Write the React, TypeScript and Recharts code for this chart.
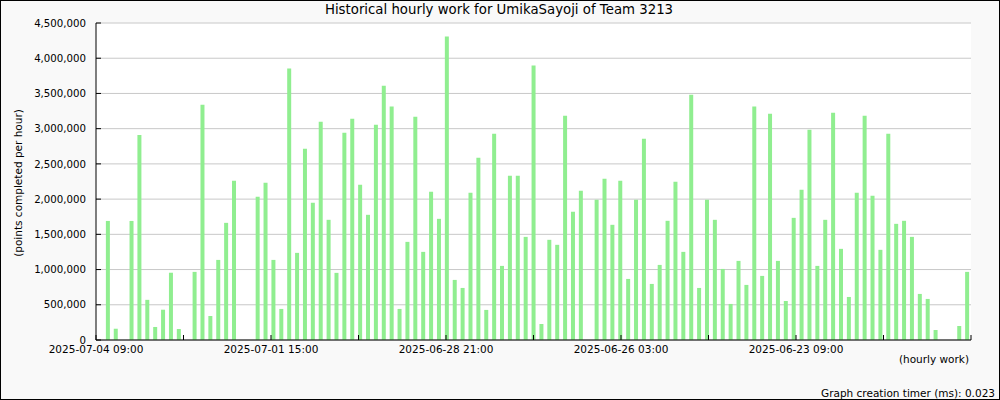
import React from 'react';
import { BarChart, Bar, XAxis, YAxis, CartesianGrid } from 'recharts';

// points per slot, newest first (empty slots are 0)
const work = [
    0, 1690000, 160000, 0, 1690000, 2910000, 570000, 185000, 430000, 955000,
    156000, 0, 967000, 3340000, 341000, 1137000, 1663000, 2260000, 0, 0,
    2033000, 2232000, 1137000, 441000, 3853000, 1237000, 2715000, 1948000, 3099000, 1706000,
    953000, 2943000, 3142000, 2204000, 1777000, 3057000, 3611000, 3313000, 441000, 1393000,
    3170000, 1251000, 2104000, 1720000, 4308000, 853000, 739000, 2090000, 2587000, 427000,
    2929000, 1052000, 2332000, 2332000, 1464000, 3896000, 227000, 1422000, 1351000, 3185000,
    1820000, 2118000, 0, 1990000, 2289000, 1635000, 2261000, 867000, 1990000, 2858000,
    796000, 1066000, 1692000, 2246000, 1251000, 3483000, 739000, 1990000, 1706000, 1009000,
    512000, 1123000, 782000, 3313000, 910000, 3213000, 1123000, 554000, 1734000, 2133000,
    2986000, 1052000, 1706000, 3227000, 1294000, 611000, 2090000, 3185000, 2047000, 1280000,
    2929000, 1649000, 1692000, 1464000, 654000, 583000, 142000, 0, 0, 199000,
    967000,
];

// time ticks every 33 hours across the 330-hour window
const tickHours = [0, 33, 66, 99, 132, 165, 198, 231, 264, 297, 330];
const tickLabels = [
    '2025-07-04 09:00', '', '2025-07-01 15:00', '', '2025-06-28 21:00', '',
    '2025-06-26 03:00', '', '2025-06-23 09:00', '', '',
];
const yTicks = [0, 500000, 1000000, 1500000, 2000000, 2500000, 3000000, 3500000, 4000000, 4500000];

const data = work.map((w, i) => ({ slot: i, work: w }));
const span = work.length;
const slotTicks = tickHours.map((h) => (h / 330) * span - 0.5);

const FONT = '"DejaVu Sans", Verdana, sans-serif';

function TimeTick({ x, y, payload }: any) {
    const label = tickLabels[slotTicks.indexOf(payload.value)] || '';
    return (
        <g>
            <line x1={x} y1={y} x2={x} y2={y - 5} stroke="#000" />
            {label && (
                <text x={x} y={y + 12.5} textAnchor="middle" fontSize={10.5} fontFamily={FONT} fill="#000">{label}</text>
            )}
        </g>
    );
}

function ValueTick({ x, y, payload }: any) {
    return (
        <g>
            <line x1={x} y1={y} x2={x + 5} y2={y} stroke="#000" />
            <text x={x - 10} y={y} dy={3.7} textAnchor="end" fontSize={10.2} fontFamily={FONT} fill="#000">
                {payload.value.toLocaleString('en-US')}
            </text>
        </g>
    );
}

const txt: React.CSSProperties = { position: 'absolute', fontFamily: FONT, color: '#000', lineHeight: '16px', whiteSpace: 'nowrap' };

export default function App() {
    return (
        <div style={{ position: 'relative', width: 1000, height: 400, background: '#f9f9f9', boxShadow: 'inset 0 0 0 1px #000' }}>
            <style>{'body{margin:0}'}</style>
            <div style={{ ...txt, left: 0, width: 998, top: 2, textAlign: 'center', fontSize: 13.3 }}>
                Historical hourly work for UmikaSayoji of Team 3213
            </div>
            <div style={{ ...txt, left: -82, top: 175, width: 200, height: 16, textAlign: 'center', fontSize: 10.5, transform: 'rotate(-90deg)' }}>
                (points completed per hour)
            </div>
            <div style={{ ...txt, right: 31, top: 351, fontSize: 10.5 }}>(hourly work)</div>
            <div style={{ ...txt, right: 5, top: 385, fontSize: 10.5 }}>Graph creation timer (ms): 0.023</div>

            <BarChart width={1000} height={400} data={data} margin={{ top: 23, right: 29, bottom: 0, left: 0 }}
                style={{ position: 'absolute', left: 0, top: 0 }}>
                <CartesianGrid vertical={false} stroke="#c8c8c8" fill="#fff" />
                <XAxis dataKey="slot" type="number" domain={[-0.5, span - 0.5]} ticks={slotTicks} allowDataOverflow interval={0}
                    height={60} axisLine={{ stroke: '#000' }} tickLine={false} tickSize={0} tickMargin={0} tick={<TimeTick />} />
                <YAxis domain={[0, 4500000]} ticks={yTicks} width={96} interval={0} allowDataOverflow
                    axisLine={{ stroke: '#000' }} tickLine={false} tickSize={0} tickMargin={0} tick={<ValueTick />} />
                <Bar dataKey="work" fill="#90ee90" barSize={4} isAnimationActive={false} />
            </BarChart>
        </div>
    );
}
